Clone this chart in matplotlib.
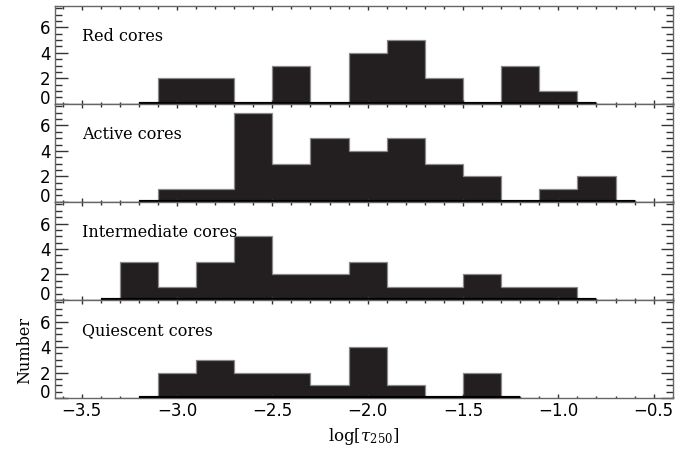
"""
tau_250 直方图 (四类 core)
"""

import numpy as np
import matplotlib
matplotlib.use('Agg')
import matplotlib.pyplot as plt
from matplotlib.ticker import MultipleLocator

plt.rcParams['mathtext.fontset'] = 'dejavuserif'

# 数据
BIN_WIDTH = 0.2
panel_names = ['Red cores', 'Active cores', 'Intermediate cores', 'Quiescent cores']
first_edges = [-3.3, -3.3, -3.5, -3.3]
red_counts = [0, 2, 2, 0, 3, 0, 4, 5, 2, 0, 3, 1, 0]
active_counts = [0, 1, 1, 7, 3, 5, 4, 5, 3, 2, 0, 1, 2, 0]
intermediate_counts = [0, 3, 1, 3, 5, 2, 2, 3, 1, 1, 2, 1, 1, 0]
quiescent_counts = [0, 2, 3, 2, 2, 1, 4, 1, 0, 2, 0]
all_counts = [red_counts, active_counts, intermediate_counts, quiescent_counts]

x_ticks = [-3.5, -3.0, -2.5, -2.0, -1.5, -1.0, -0.5]
y_ticks = [0, 2, 4, 6]

FILL = '#231f20'
FRAME = '#666666'


def draw_hist(ax, start, counts):
    """IDL 风格直方图: 填充 + 零线"""
    counts = np.asarray(counts, dtype=float)
    edges = start + BIN_WIDTH * np.arange(len(counts) + 1)
    ax.stairs(counts, edges, fill=True, color=FILL, lw=0)
    ax.stairs(counts, edges, color='#8a8a8a', lw=0.9, baseline=None)
    centers = edges[:-1] + BIN_WIDTH / 2
    ax.plot([centers[0], centers[-1]], [0, 0], color='black', lw=3,
            solid_capstyle='butt', zorder=3)


def style_axis(ax):
    """坐标轴样式"""
    ax.set_xlim(-3.64, -0.40)
    ax.set_ylim(0, 7.7)
    ax.set_xticks(x_ticks)
    ax.set_yticks(y_ticks)
    ax.xaxis.set_minor_locator(MultipleLocator(0.1))
    ax.yaxis.set_minor_locator(MultipleLocator(0.5))
    ax.tick_params(axis='both', which='both', direction='in',
                   top=True, right=True, color='#333333', width=1.0)
    ax.tick_params(axis='y', which='major', length=9)
    ax.tick_params(axis='y', which='minor', length=5)
    ax.tick_params(axis='x', which='major', length=3)
    ax.tick_params(axis='x', which='minor', length=1.8)
    ax.tick_params(labelsize=12, pad=3)
    for sp in ax.spines.values():
        sp.set_color(FRAME)
        sp.set_linewidth(1.0)
    # "0" 抬到轴线上方, 避免和下一个面板重叠
    labs = ax.get_yticklabels()
    labs[0].set_va('baseline')


def main():
    fig = plt.figure(figsize=(6.94, 4.49), dpi=100)
    left, right = 55 / 694, 672.7 / 694
    top, bottom = 1 - 5.7 / 449, 1 - 398 / 449
    gs = fig.add_gridspec(4, 1, left=left, right=right, top=top,
                          bottom=bottom, hspace=0)

    for i, (name, start, counts) in enumerate(zip(panel_names, first_edges, all_counts)):
        ax = fig.add_subplot(gs[i])
        draw_hist(ax, start, counts)
        style_axis(ax)
        ax.text(0.044, 0.69, name, transform=ax.transAxes, ha='left',
                va='center', fontsize=11.5, family='DejaVu Serif')
        if i < 3:
            ax.tick_params(labelbottom=False)
        else:
            ax.set_xlabel(r'log[$\tau_{250}$]', fontsize=12,
                          family='DejaVu Serif', labelpad=4)

    fig.text(25 / 694, 1 - 350 / 449, 'Number', rotation=90, ha='center',
             va='center', fontsize=11.5, family='DejaVu Serif')

    fig.savefig('out.png', dpi=100)
    plt.close(fig)


if __name__ == "__main__":
    main()
